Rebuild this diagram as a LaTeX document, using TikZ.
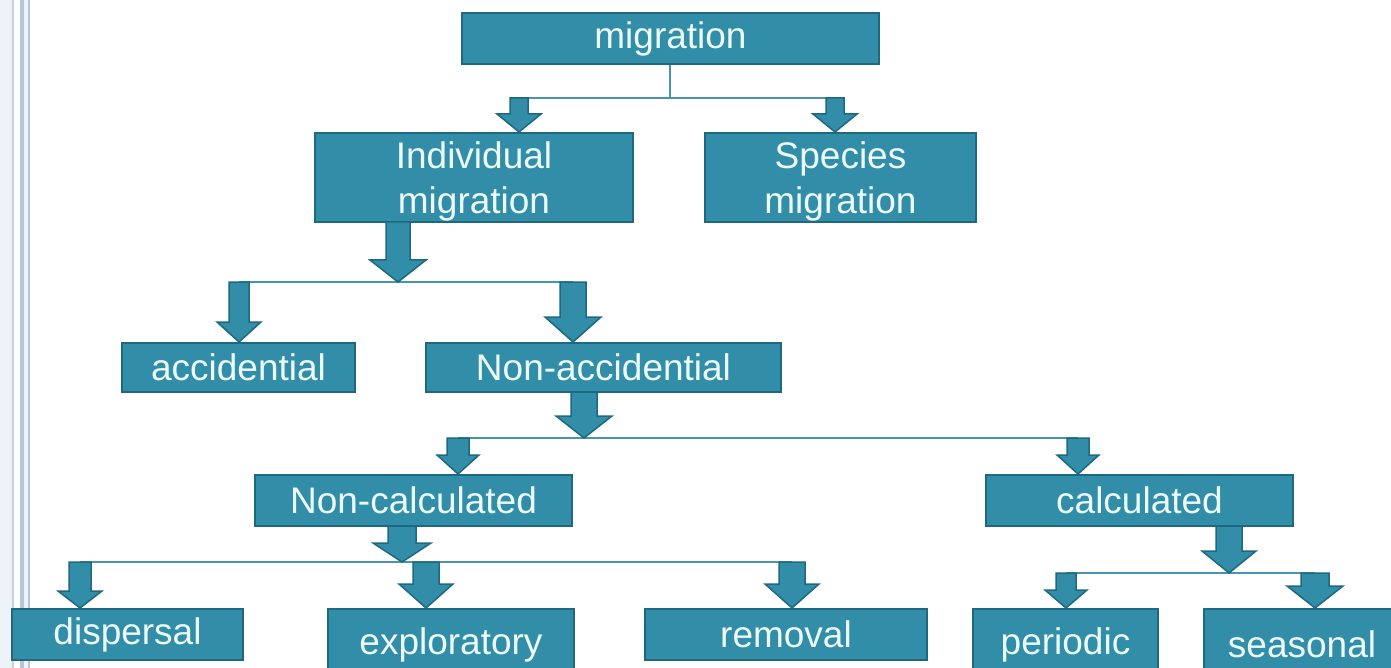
\documentclass[tikz,border=0pt]{standalone}
\usepackage{fontspec}
\setmainfont{Liberation Sans}
\usepackage{xcolor}
\usepackage{tikz}
\usetikzlibrary{calc}
\definecolor{boxfill}{RGB}{50,142,168}
\definecolor{boxline}{RGB}{30,105,128}
\definecolor{linkline}{RGB}{72,150,172}
\definecolor{boxtext}{RGB}{236,250,250}
\definecolor{stripbg}{RGB}{238,243,249}
\definecolor{stripline}{RGB}{200,210,222}
\definecolor{stripbar}{RGB}{182,198,214}
\tikzstyle{box} = [rectangle, draw=boxline, line width=2pt, fill=boxfill, text=boxtext, inner sep=0pt, align=center, font=\fontsize{37}{45}\selectfont]
\tikzstyle{link} = [draw=linkline, line width=2.5pt]
\tikzstyle{blk} = [draw=boxline, line width=1.5pt, fill=boxfill, line join=miter]
% block arrow: start, target, half shaft, half head, head length
\newcommand{\blkarrow}[5]{%
  \path[blk] let \p1=(#1), \p2=(#2) in
    (\x1-#3pt,\y1) -- (\x1+#3pt,\y1) -- (\x1+#3pt,\y2+#5pt) -- (\x1+#4pt,\y2+#5pt)
    -- (\x1,\y2) -- (\x1-#4pt,\y2+#5pt) -- (\x1-#3pt,\y2+#5pt) -- cycle;}

\begin{document}
\begin{tikzpicture}[x=1pt, y=-1pt]
    \useasboundingbox (0,0) rectangle (1391,668);
    \clip (0,0) rectangle (1391,668);
    \fill[white] (0,0) rectangle (1391,668);
    % slide edge
    \fill[stripbg] (0,0) rectangle (12,668);
    \fill[stripline] (12,0) rectangle (14,668);
    \fill[stripbar] (20,0) rectangle (30,668);
    \fill[stripbg] (24,0) rectangle (28,668);

    \node[box, minimum width=417pt, minimum height=51pt] (mig) at (670.5,38.5) {migration};
    \node[box, minimum width=318pt, minimum height=89pt] (indiv) at (474,177.5) {\rule{0pt}{35pt}Individual\\migration};
    \node[box, minimum width=271pt, minimum height=89pt] (spec) at (840.5,177.5) {\rule{0pt}{35pt}Species\\migration};
    \node[box, minimum width=233pt, minimum height=49pt] (acc) at (238.5,367.5) {accidential};
    \node[box, minimum width=355pt, minimum height=49pt] (nonacc) at (603.5,367.5) {Non-accidential};
    \node[box, minimum width=317pt, minimum height=51pt] (noncalc) at (413.5,500.5) {Non-calculated};
    \node[box, minimum width=307pt, minimum height=51pt] (calc) at (1139.5,500.5) {calculated};
    \node[box, minimum width=231pt, minimum height=51pt] (disp) at (127.5,634.5) {dispersal};
    \node[box, minimum width=246pt, minimum height=71pt] (expl) at (451,644.5) {exploratory};
    \node[box, minimum width=282pt, minimum height=51pt] (remov) at (786,634.5) {removal};
    \node[box, minimum width=185pt, minimum height=71pt] (peri) at (1065.5,644.5) {periodic};
    \node[box, minimum width=196pt, minimum height=71pt] (seas) at (1302,644.5) {seasonal};

    % branch points
    \coordinate (mig0) at (670,98);
    \coordinate (indivIn) at (519,98);
    \coordinate (specIn) at (835,98);
    \coordinate (indivOut) at (398,222);
    \coordinate (accIn) at (239,282);
    \coordinate (nonaccIn) at (573,282);
    \coordinate (nonaccOut) at (584,392);
    \coordinate (noncalcIn) at (458,438);
    \coordinate (calcIn) at (1078,438);
    \coordinate (noncalcOut) at (402,526);
    \coordinate (dispIn) at (80,562);
    \coordinate (explIn) at (426,562);
    \coordinate (removIn) at (792,562);
    \coordinate (calcOut) at (1229,526);
    \coordinate (periIn) at (1066,573);
    \coordinate (seasIn) at (1315,573);

    \draw[link] (mig.south -| mig0) -- (mig0);
    \draw[link] (indivIn) -- (specIn);
    \draw[link] (accIn) -- (nonaccIn);
    \draw[link] (noncalcIn) -- (calcIn);
    \draw[link] (dispIn) -- (removIn);
    \draw[link] (periIn) -- (seasIn);

    \blkarrow{indivIn}{indiv.north}{9}{22}{18}
    \blkarrow{specIn}{spec.north}{9}{22}{18}
    \blkarrow{indivOut}{accIn}{12}{28}{22}
    \blkarrow{accIn}{acc.north}{10}{22}{20}
    \blkarrow{nonaccIn}{nonacc.north}{13}{28}{25}
    \blkarrow{nonaccOut}{noncalcIn}{13}{28}{22}
    \blkarrow{noncalcIn}{noncalc.north}{11}{21}{19}
    \blkarrow{calcIn}{calc.north}{11}{21}{19}
    \blkarrow{noncalcOut}{dispIn}{14}{29}{19}
    \blkarrow{dispIn}{disp.north}{11}{22}{17}
    \blkarrow{explIn}{expl.north}{13}{27}{24}
    \blkarrow{removIn}{remov.north}{13}{27}{24}
    \blkarrow{calcOut}{periIn}{13}{27}{22}
    \blkarrow{periIn}{peri.north}{10}{21}{18}
    \blkarrow{seasIn}{seas.north}{14}{28}{22}
\end{tikzpicture}
\end{document}
